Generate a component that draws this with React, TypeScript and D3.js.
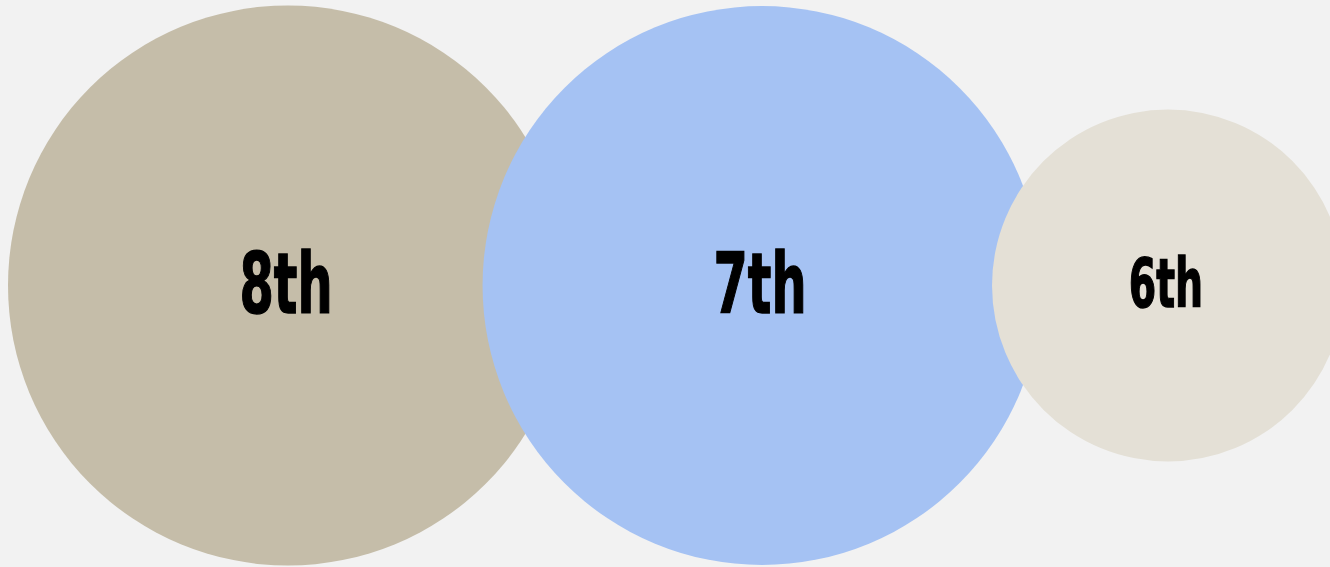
import * as d3 from "d3";

// bubble data (drawn in order, later ones on top)
const grades = ["8th", "7th", "6th"];
const counts = [100, 99.6, 39.5];
const centers = [288, 762, 1168];
const colors = ["#c5bda9", "#a5c2f3", "#e4e0d6"];

const W = 1330;
const H = 567;

const App = () => {
  const maxCount = d3.max(counts) as number;
  const r = d3.scaleSqrt().domain([0, maxCount]).range([0, 280]);
  const x = d3.scaleLinear().domain([0, W]).range([0, W]);
  const cy = 285.5;
  const fontScale = d3.scaleLinear().domain([176, 280]).range([67, 84]);

  const nodes = grades.map((g, i) => ({
    grade: g,
    cx: x(centers[i]),
    r: r(counts[i]),
    color: colors[i],
  }));

  return (
    <svg
      width={W}
      height={H}
      style={{ position: "absolute", left: 0, top: 0, display: "block", background: "#f2f2f2" }}
    >
      <rect width={W} height={H} fill="#f2f2f2" />
      {nodes.map((n) => {
        const fs = fontScale(n.r);
        return (
          <g key={n.grade}>
            <circle cx={n.cx} cy={cy} r={n.r} fill={n.color} />
            <text
              x={n.cx - 2}
              y={cy + fs * 0.324}
              textAnchor="middle"
              fontFamily="'Liberation Sans Narrow', 'DejaVu Sans Condensed', sans-serif"
              fontWeight="bold"
              fontSize={fs}
              fill="#000"
              stroke="#000"
              strokeWidth={1.4}
              textLength={fs * 1.11}
              lengthAdjust="spacingAndGlyphs"
            >
              {n.grade}
            </text>
          </g>
        );
      })}
    </svg>
  );
};

export default App;
